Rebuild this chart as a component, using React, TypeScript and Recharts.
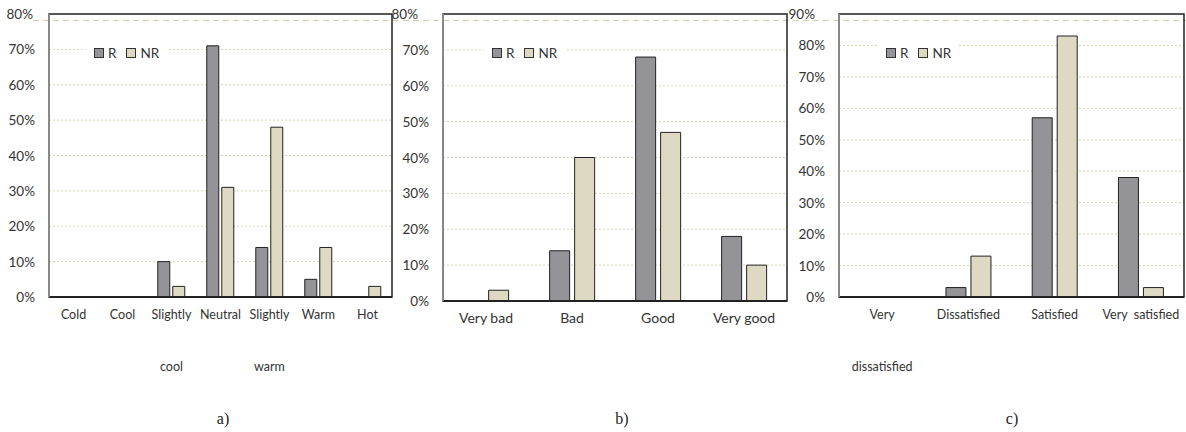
import React from "react"
import { BarChart, Bar, XAxis, YAxis, CartesianGrid, Legend, ReferenceArea } from "recharts"

// a) thermal sensation
const thermalCategories = ["Cold", "Cool", "Slightly\ncool", "Neutral", "Slightly\nwarm", "Warm", "Hot"]
const thermalR = [0, 0, 10, 71, 14, 5, 0]
const thermalNR = [0, 0, 3, 31, 48, 14, 3]

// b) air quality
const airCategories = ["Very bad", "Bad", "Good", "Very good"]
const airR = [0, 14, 68, 18]
const airNR = [3, 40, 47, 10]

// c) satisfaction
const satisfactionCategories = ["Very\ndissatisfied", "Dissatisfied", "Satisfied", "Very  satisfied"]
const satisfactionR = [0, 3, 57, 38]
const satisfactionNR = [0, 13, 83, 3]

const ticks80 = [0, 10, 20, 30, 40, 50, 60, 70, 80]
const ticks90 = [0, 10, 20, 30, 40, 50, 60, 70, 80, 90]
const seriesNames = ["R", "NR"]

const R_FILL = "#939398"
const NR_FILL = "#ddd9c3"
const FONT = "Lato, 'Open Sans', sans-serif"

interface PanelProps {
	left: number
	width: number
	categories: string[]
	r: number[]
	nr: number[]
	ticks: number[]
	yWidth: number
	rightMargin: number
	top: number
	xHeight: number
	catGap: string
	barGap: number
	xFont: number
	topDx: number
	legendLeft: number
}

const Panel: React.FC<PanelProps> = (p) => {
	const data = p.categories.map((c, i) => ({ name: c, R: p.r[i], NR: p.nr[i] }))
	const max = p.ticks[p.ticks.length - 1]

	// two-line category labels, second line sits far below like the original
	const XTick = ({ x, y, payload }: any) => {
		const lines = String(payload.value).split("\n")
		return (
			<g transform={`translate(${x},${y})`}>
				{lines.map((l, i) => (
					<text
						key={i}
						x={0}
						y={i === 0 ? 22 : 74}
						textAnchor="middle"
						fill="#333"
						fontSize={p.xFont}
						fontFamily={FONT}
						style={{ whiteSpace: "pre" }}>
						{l}
					</text>
				))}
			</g>
		)
	}

	const YTick = ({ x, y, payload }: any) => (
		<text
			x={x + (payload.value === max ? p.topDx : 0)}
			y={y}
			dy={5}
			textAnchor="end"
			fill="#333"
			fontSize={13.5}
			fontFamily={FONT}>
			{`${payload.value}%`}
		</text>
	)

	const renderLegend = () => (
		<div
			style={{
				display: "flex",
				alignItems: "center",
				background: "#fff",
				padding: "0 8px",
				fontFamily: FONT,
				fontSize: 13.5,
				color: "#333",
				lineHeight: "16px",
			}}>
			{seriesNames.map((n, i) => (
				<span key={n} style={{ display: "flex", alignItems: "center", marginRight: i === 0 ? 10 : 0 }}>
					<span
						style={{
							display: "inline-block",
							width: 8,
							height: 8,
							border: "1px solid #333",
							background: i === 0 ? R_FILL : NR_FILL,
							marginRight: 4,
						}}
					/>
					{n}
				</span>
			))}
		</div>
	)

	return (
		<div style={{ position: "absolute", left: p.left, top: 0 }}>
			<BarChart
				width={p.width}
				height={380}
				data={data}
				margin={{ top: p.top, right: p.rightMargin, left: 0, bottom: 0 }}
				barCategoryGap={p.catGap}
				barGap={p.barGap}>
				<CartesianGrid vertical={false} stroke="#d9d4b6" strokeDasharray="2 2" />
				{/* plot frame */}
				<ReferenceArea y1={0} y2={max} fill="none" stroke="#222" strokeWidth={1.5} ifOverflow="visible" />
				<XAxis
					dataKey="name"
					height={p.xHeight}
					interval={0}
					tickSize={0}
					tickMargin={0}
					tick={<XTick />}
					axisLine={{ stroke: "#222", strokeWidth: 2 }}
					tickLine={false}
				/>
				<YAxis
					width={p.yWidth}
					domain={[0, max]}
					ticks={p.ticks}
					tickSize={0}
					tickMargin={14}
					tick={<YTick />}
					tickLine={false}
					axisLine={{ stroke: "#888", strokeWidth: 2 }}
				/>
				<Legend
					layout="horizontal"
					verticalAlign="middle"
					align="center"
					wrapperStyle={{ left: p.legendLeft, top: 45, width: "auto" }}
					content={renderLegend}
				/>
				<Bar dataKey="R" fill={R_FILL} stroke="#222" strokeWidth={1} isAnimationActive={false} />
				<Bar dataKey="NR" fill={NR_FILL} stroke="#222" strokeWidth={1} isAnimationActive={false} />
			</BarChart>
		</div>
	)
}

const captions = [
	{ text: "a)", x: 223 },
	{ text: "b)", x: 622 },
	{ text: "c)", x: 1012 },
]

export default function App() {
	return (
		<div style={{ position: "absolute", left: 0, top: 0, width: 1186, height: 432, background: "#fff" }}>
			{/* dashed line across the top */}
			<svg style={{ position: "absolute", left: 0, top: 0 }} width={1186} height={30}>
				<line x1={33} x2={1186} y1={20.5} y2={20.5} stroke="#d6d0aa" strokeDasharray="6 4" strokeWidth={1} />
			</svg>
			<Panel
				left={0}
				width={400}
				categories={thermalCategories}
				r={thermalR}
				nr={thermalNR}
				ticks={ticks80}
				yWidth={49}
				rightMargin={8}
				top={14}
				xHeight={83}
				catGap="22%"
				barGap={3}
				xFont={12.5}
				topDx={-2}
				legendLeft={86}
			/>
			<Panel
				left={390}
				width={400}
				categories={airCategories}
				r={airR}
				nr={airNR}
				ticks={ticks80}
				yWidth={53}
				rightMargin={3}
				top={14}
				xHeight={79}
				catGap="24%"
				barGap={5}
				xFont={14}
				topDx={-11}
				legendLeft={94}
			/>
			<Panel
				left={780}
				width={406}
				categories={satisfactionCategories}
				r={satisfactionR}
				nr={satisfactionNR}
				ticks={ticks90}
				yWidth={59}
				rightMargin={2}
				top={14}
				xHeight={83}
				catGap="24%"
				barGap={5}
				xFont={12.5}
				topDx={-10}
				legendLeft={98}
			/>
			{captions.map((c) => (
				<div
					key={c.text}
					style={{
						position: "absolute",
						left: c.x - 20,
						width: 40,
						top: 410,
						textAlign: "center",
						fontFamily: "'Liberation Serif', 'Times New Roman', serif",
						fontSize: 16,
						lineHeight: "18px",
						color: "#222",
					}}>
					{c.text}
				</div>
			))}
		</div>
	)
}
